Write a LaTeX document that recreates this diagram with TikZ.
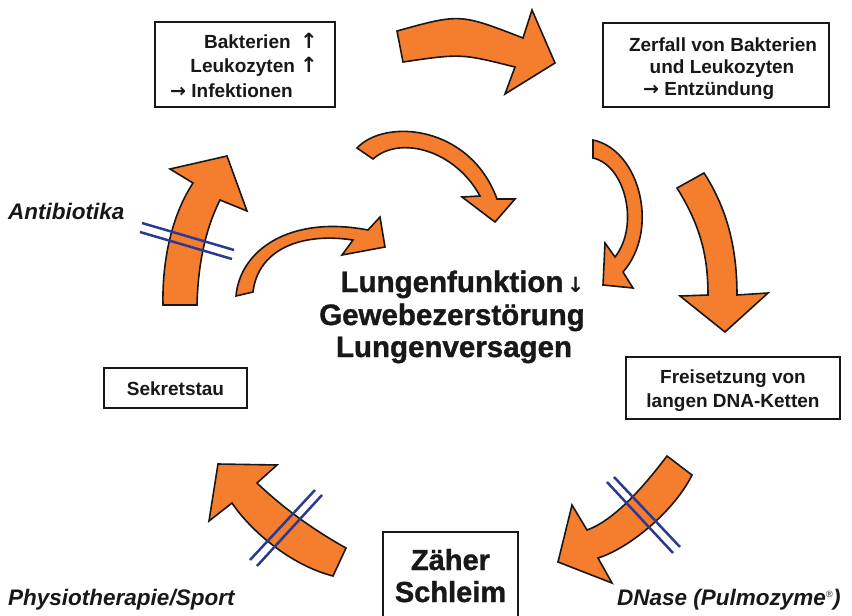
\documentclass[tikz,border=0pt]{standalone}
\usepackage{fontspec}
\setmainfont{Liberation Sans}
\newfontfamily\arrowfont{DejaVu Sans}
\newfontfamily\heavyfont[FakeBold=1.2]{Liberation Sans Bold}
\definecolor{orng}{HTML}{F47E2E}
\definecolor{navy}{HTML}{2B3A8F}
\definecolor{ink}{HTML}{1A1718}
\begin{document}
\begin{tikzpicture}[x=1pt,y=-1pt,
  box/.style={draw=ink,line width=1.3pt,inner sep=0pt,fill=white},
  shapearrow/.style={fill=orng,draw=ink,line width=1.6pt,line join=miter},
  blockline/.style={draw=navy,line width=2.5pt},
  boxtxt/.style={font=\bfseries\fontsize{19}{23}\selectfont,text=ink,inner sep=0pt},
  bigtxt/.style={font=\heavyfont\fontsize{29.5}{34}\selectfont,text=ink,inner sep=0pt,anchor=base},
  schleimtxt/.style={font=\heavyfont\fontsize{29}{33}\selectfont,text=ink,inner sep=0pt,anchor=base},
  lbl/.style={font=\bfseries\itshape\fontsize{22.5}{26}\selectfont,text=ink,inner sep=0pt,anchor=base west}
]
\useasboundingbox (0,0) rectangle (852,616);
\clip (0,0) rectangle (852,616);

% boxes
\node[box,minimum width=180pt,minimum height=85pt] (b1) at (245,64.5) {};
\node[box,minimum width=226pt,minimum height=84pt] (b2) at (716,65) {};
\node[box,minimum width=214pt,minimum height=62pt] (b3) at (733,388) {};
\node[box,minimum width=143pt,minimum height=40pt] (b4) at (175.5,388) {};
\node[box,minimum width=135pt,minimum height=108pt] (b5) at (450.5,586) {};

% curved block arrows
\draw[shapearrow] (397,31) .. controls (460,13.5) .. (523,38) -- (532,10) -- (555,63) -- (505,94) -- (515,67) .. controls (461,53.5) .. (403,62) -- cycle;
\draw[shapearrow] (357,148) .. controls (385,118) and (470,125) .. (497,199) -- (515,199) -- (495,222) -- (462,197) -- (480,196) .. controls (455,150) and (400,135) .. (373,159) -- cycle;
\draw[shapearrow] (593,140) .. controls (640,150) and (660,230) .. (623,272) -- (633,288) -- (603,285) -- (605,243) -- (615,257) .. controls (640,225) and (625,165) .. (593,158) -- cycle;
\draw[shapearrow] (677,188) .. controls (700,225) and (708,255) .. (708,295) -- (680,296) -- (725,332) -- (768,293) -- (737,295) .. controls (737,250) and (728,210) .. (704,173) -- cycle;
\draw[shapearrow] (667,456) .. controls (645,485) and (615,520) .. (587,530) -- (572,505) -- (558,562) -- (612,583) -- (598,558) .. controls (630,548) and (675,510) .. (692,475) -- cycle;
\draw[shapearrow] (346,548) .. controls (310,528) and (280,505) .. (257,483) -- (277,465) -- (218,464) -- (209,521) -- (232,503) .. controls (250,530) and (290,565) .. (333,576) -- cycle;
\draw[shapearrow] (163,305) .. controls (162,260) and (172,215) .. (193,183) -- (170,169) -- (227,156) -- (247,211) -- (220,200) .. controls (205,230) and (198,265) .. (197,305) -- cycle;
\draw[shapearrow] (236,296) .. controls (240,250) and (290,215) .. (368,230) -- (380,217) -- (385,247) -- (342,255) -- (353,240) .. controls (300,232) and (258,250) .. (253,292) -- cycle;

% blocking double lines
\draw[blockline] (142,223) -- (234,250);
\draw[blockline] (140,232) -- (232,259);
\draw[blockline] (607,482) -- (673,553);
\draw[blockline] (614,477) -- (680,547);
\draw[blockline] (315,490) -- (250,560);
\draw[blockline] (322,495) -- (257,566);

% box texts
\node[boxtxt,anchor=base east] (t1a) at (318,48) {Bakterien\enspace{\arrowfont\bfseries\fontsize{21}{23}\selectfont ↑}};
\node[boxtxt,anchor=base east] (t1b) at (318,72) {Leukozyten {\arrowfont\bfseries\fontsize{21}{23}\selectfont ↑}};
\node[boxtxt,anchor=base west] (t1c) at (170,97) {{\arrowfont\bfseries →} Infektionen};
\node[boxtxt,anchor=base] (t2a) at (723,51) {Zerfall von Bakterien};
\node[boxtxt,anchor=base] (t2b) at (722,73) {und Leukozyten};
\node[boxtxt,anchor=base west] (t2c) at (643,95) {{\arrowfont\bfseries →} Entzündung};
\node[boxtxt,anchor=base] (t3a) at (733,383) {Freisetzung von};
\node[boxtxt,anchor=base] (t3b) at (733,407) {langen DNA-Ketten};
\node[boxtxt,anchor=base] (t4) at (175.5,395) {Sekretstau};
\node[schleimtxt] (t5a) at (450.5,570) {Zäher};
\node[schleimtxt] (t5b) at (450.5,602) {Schleim};

% central text
\node[bigtxt] (c1) at (452,292) {Lungenfunktion};
\node[inner sep=0pt,anchor=base west,text=ink,font=\arrowfont\bfseries\fontsize{21}{23}\selectfont] (c1arr) at ([xshift=3pt]c1.base east) {↓};
\node[bigtxt] (c2) at (452,325) {Gewebezerstörung};
\node[bigtxt] (c3) at (454,357) {Lungenversagen};

% side labels
\node[lbl] (l1) at (8,219) {Antibiotika};
\node[lbl] (l2) at (8,605) {Physiotherapie/Sport};
\node[lbl] (l3) at (617,605) {DNase (Pulmozyme\textsuperscript{\normalfont\fontsize{9}{10}\selectfont ®})};
\end{tikzpicture}
\end{document}
